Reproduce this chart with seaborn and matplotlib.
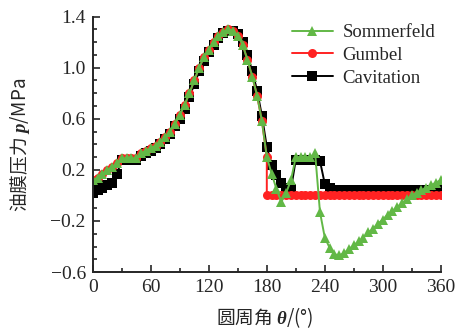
import numpy as np
import pandas as pd
import matplotlib
matplotlib.use('Agg')
import matplotlib.pyplot as plt
import seaborn as sns

# angle positions (deg), one point every 5 degrees
theta = list(range(0, 361, 5))

sommerfeld = [0.12, 0.14, 0.17, 0.20, 0.22, 0.25, 0.29, 0.29, 0.29, 0.29,
              0.33, 0.35, 0.37, 0.39, 0.42, 0.46, 0.50, 0.56, 0.63, 0.71,
              0.80, 0.90, 1.00, 1.08, 1.14, 1.20, 1.25, 1.28, 1.30, 1.29,
              1.25, 1.18, 1.06, 0.93, 0.78, 0.58, 0.30, 0.17, 0.05, -0.05,
              0.02, 0.12, 0.30, 0.30, 0.30, 0.30, 0.33, -0.13, -0.33, -0.41,
              -0.46, -0.47, -0.45, -0.42, -0.39, -0.36, -0.33, -0.29, -0.26, -0.22,
              -0.19, -0.15, -0.12, -0.09, -0.06, -0.03, 0.00, 0.02, 0.04, 0.06,
              0.08, 0.10, 0.12]

# Gumbel drops to zero right at 180 deg (two points at 180)
theta_gumbel = list(range(0, 181, 5)) + list(range(180, 361, 5))
gumbel = [0.12, 0.14, 0.17, 0.20, 0.22, 0.25, 0.29, 0.29, 0.29, 0.29,
          0.33, 0.35, 0.37, 0.39, 0.42, 0.46, 0.50, 0.56, 0.63, 0.71,
          0.80, 0.90, 1.00, 1.08, 1.14, 1.20, 1.25, 1.28, 1.30, 1.29,
          1.25, 1.18, 1.06, 0.93, 0.78, 0.58, 0.30,
          0.0, 0.0, 0.0, 0.0, 0.0, 0.0, 0.0, 0.0, 0.0, 0.0,
          0.0, 0.0, 0.0, 0.0, 0.0, 0.0, 0.0, 0.0, 0.0, 0.0,
          0.0, 0.0, 0.0, 0.0, 0.0, 0.0, 0.0, 0.0, 0.0, 0.0,
          0.0, 0.0, 0.0, 0.0, 0.0, 0.0, 0.0]

cavitation = [0.02, 0.04, 0.06, 0.08, 0.10, 0.17, 0.28, 0.28, 0.28, 0.28,
              0.31, 0.33, 0.35, 0.37, 0.40, 0.44, 0.48, 0.54, 0.60, 0.68,
              0.77, 0.87, 0.97, 1.05, 1.12, 1.18, 1.23, 1.27, 1.29, 1.29,
              1.26, 1.20, 1.10, 0.97, 0.82, 0.62, 0.38, 0.24, 0.16, 0.10,
              0.06, 0.05, 0.28, 0.28, 0.28, 0.28, 0.28, 0.27, 0.09, 0.06,
              0.045, 0.045, 0.045, 0.045, 0.045, 0.045, 0.045, 0.045, 0.045, 0.045,
              0.045, 0.045, 0.045, 0.045, 0.045, 0.045, 0.045, 0.045, 0.045, 0.045,
              0.045, 0.045, 0.045]

xticks = [0, 60, 120, 180, 240, 300, 360]
yticks = [-0.6, -0.2, 0.2, 0.6, 1.0, 1.4]

sns.set_style('ticks')
plt.rcParams['font.family'] = ['Liberation Serif', 'DejaVu Serif']
plt.rcParams['mathtext.fontset'] = 'custom'
plt.rcParams['mathtext.bf'] = 'Liberation Serif:italic:bold'
plt.rcParams['mathtext.rm'] = 'Liberation Serif'
plt.rcParams['mathtext.it'] = 'Liberation Serif:italic'

fig = plt.figure(figsize=(4.64, 3.31), dpi=100)
ax = fig.add_axes([0.2, 0.178, 0.75, 0.772])

green = '#62b846'
red = '#ff2222'

sns.lineplot(x=theta, y=cavitation, ax=ax, color='black', marker='s', markersize=6.5,
             markeredgewidth=0, linewidth=1.4, sort=False, estimator=None, label='Cavitation')
sns.lineplot(x=theta_gumbel, y=gumbel, ax=ax, color=red, marker='o', markersize=6.5,
             markeredgewidth=0, linewidth=1.4, sort=False, estimator=None, label='Gumbel')
sns.lineplot(x=theta, y=sommerfeld, ax=ax, color=green, marker='^', markersize=6.5,
             markeredgewidth=0, linewidth=1.4, sort=False, estimator=None, label='Sommerfeld')

ax.set_xlim(0, 360)
ax.set_ylim(-0.6, 1.4)
ax.set_xticks(xticks)
ax.set_yticks(yticks)
ax.set_xticks(range(30, 360, 60), minor=True)
ax.set_yticks(np.arange(-0.5, 1.4, 0.1), minor=True)
ax.set_yticklabels([f'{v:.1f}'.replace('-', '\u2212') for v in yticks])
ax.tick_params(which='both', direction='in', labelsize=14, width=1.2)
ax.tick_params(which='major', length=5, pad=5)
ax.tick_params(which='minor', length=3)
for s in ['left', 'bottom']:
    ax.spines[s].set_linewidth(1.4)
sns.despine(ax=ax)
ax.set_xlabel('')
ax.set_ylabel('')

# legend in the order Sommerfeld, Gumbel, Cavitation
h, l = ax.get_legend_handles_labels()
order = [2, 1, 0]
ax.legend([h[i] for i in order], [l[i] for i in order], loc='upper left',
          bbox_to_anchor=(0.55, 1.0), frameon=False, fontsize=13.5,
          handlelength=2.2, handletextpad=0.5, labelspacing=0.3, borderaxespad=0)

cjk = ['Noto Sans CJK SC']
fig.text(20 / 464, 1 - 145 / 331, '油膜压力 $\\mathbf{p}$/MPa', rotation=90,
         ha='center', va='center', fontsize=13.5, family=cjk)
fig.text(265 / 464, 1 - 318 / 331, '圆周角 $\\mathbf{\\theta}$/(°)',
         ha='center', va='center', fontsize=13.5, family=cjk)

fig.savefig('out.png', dpi=100)
